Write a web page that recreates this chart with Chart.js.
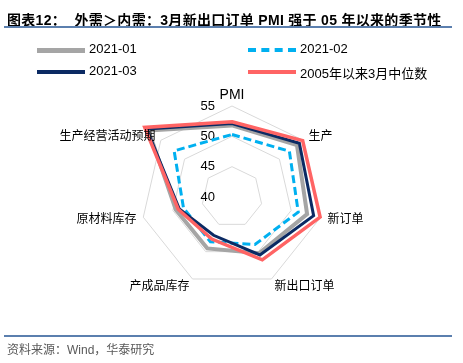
<!DOCTYPE html>
<html>
<head>
<meta charset="utf-8">
<script src="https://cdn.jsdelivr.net/npm/chart.js@4.4.1/dist/chart.umd.min.js"></script>
<style>
  body { margin: 0; width: 463px; height: 363px; background: #fff; position: relative; overflow: hidden; font-family: "Liberation Sans", "Noto Sans CJK SC", sans-serif; }
  #chart { position: absolute; left: 0; top: 0; }
  #title { position: absolute; left: 7px; top: 9px; font-size: 14px; font-weight: bold; color: #000; white-space: pre; letter-spacing: 0.3px; }
  .rule { position: absolute; left: 4px; width: 448px; height: 2px; background: #5b7fae; }
  #legend { position: absolute; left: 0; top: 0; }
  .item { position: absolute; height: 16px; font-size: 13px; color: #000; white-space: nowrap; }
  .item .swatch { position: absolute; left: 0; top: 6px; width: 48px; height: 0; }
  .item span { position: absolute; left: 52px; top: -1px; }
  #source { position: absolute; left: 7px; top: 340px; font-size: 12px; color: #595959; white-space: pre; }
</style>
</head>
<body>
<canvas id="chart" width="463" height="363"></canvas>
<div id="title">图表12：  外需＞内需：3月新出口订单 PMI 强于 05 年以来的季节性</div>
<div class="rule" style="top:26px"></div>
<div id="legend"></div>
<div class="rule" style="top:335px"></div>
<div id="source">资料来源：Wind，华泰研究</div>
<script>
// Data
const categories = ["PMI", "生产", "新订单", "新出口订单", "产成品库存", "原材料库存", "生产经营活动预期"];
const seriesNames = ["2021-01", "2021-02", "2021-03", "2005年以来3月中位数"];
const jan2021 = [51.8, 53.7, 52.7, 50.3, 49.4, 49.5, 57.6];
const feb2021 = [50.3, 52.1, 51.2, 48.7, 48.2, 48.2, 52.2];
const mar2021 = [52.1, 54.2, 53.8, 50.6, 47.0, 48.9, 58.0];
const marMedian = [52.4, 54.9, 54.9, 51.5, 47.7, 49.1, 58.4];
const tickValues = [40, 45, 50, 55];

const seriesColors = ["#a5a5a5", "#00b0f0", "#0b2a63", "#ff6464"];
const seriesWidths = [4, 3, 3, 3.5];

// Legend (HTML, two columns)
const legendPos = [[37, 42], [248, 42], [37, 64], [248, 64]];
const legendBox = document.getElementById("legend");
seriesNames.forEach((name, i) => {
    const item = document.createElement("div");
    item.className = "item";
    item.style.left = legendPos[i][0] + "px";
    item.style.top = legendPos[i][1] + "px";
    const sw = document.createElement("div");
    sw.className = "swatch";
    sw.style.borderTop = seriesWidths[i] + 1 + "px " + (i === 1 ? "dashed " : "solid ") + seriesColors[i];
    const label = document.createElement("span");
    label.innerText = name;
    item.appendChild(sw);
    item.appendChild(label);
    legendBox.appendChild(item);
});

// Ticks and point labels drawn off the radial scale
const radarText = {
    id: "radarText",
    beforeDatasetsDraw(chart) {
        const r = chart.scales.r;
        const ctx = chart.ctx;
        ctx.save();
        ctx.fillStyle = "#000";
        ctx.font = "13px 'Liberation Sans', sans-serif";
        ctx.textAlign = "right";
        ctx.textBaseline = "middle";
        tickValues.forEach(v => {
            ctx.fillText(String(v), r.xCenter - 17, r.yCenter - r.getDistanceFromCenterForValue(v));
        });
        ctx.restore();
    },
    afterDatasetsDraw(chart) {
        const r = chart.scales.r;
        const ctx = chart.ctx;
        const n = categories.length;
        ctx.save();
        ctx.fillStyle = "#000";
        categories.forEach((cat, i) => {
            const p = r.getPointPosition(i, r.drawingArea + 7);
            if (i === 0) {
                ctx.font = "14px 'Liberation Sans', sans-serif";
                ctx.textAlign = "center";
                ctx.textBaseline = "alphabetic";
                ctx.fillText(cat, p.x, p.y);
            } else {
                ctx.font = "12px 'Noto Sans CJK SC', sans-serif";
                ctx.textAlign = i < n / 2 ? "left" : "right";
                ctx.textBaseline = "middle";
                ctx.fillText(cat, p.x, p.y);
            }
        });
        ctx.restore();
    }
};

const allSeries = [jan2021, feb2021, mar2021, marMedian];
const drawOrder = [4, 3, 2, 1];

new Chart(document.getElementById("chart").getContext("2d"), {
    type: "radar",
    data: {
        labels: categories,
        datasets: allSeries.map((values, i) => ({
            label: seriesNames[i],
            data: values,
            borderColor: seriesColors[i],
            borderWidth: seriesWidths[i],
            borderDash: i === 1 ? [8, 4] : [],
            borderJoinStyle: "miter",
            fill: false,
            pointRadius: 0,
            tension: 0,
            order: drawOrder[i]
        }))
    },
    options: {
        responsive: false,
        animation: false,
        layout: { padding: { left: 141, right: 139, top: 106, bottom: 74 } },
        plugins: { legend: { display: false }, tooltip: { enabled: false } },
        scales: {
            r: {
                min: 40,
                max: 55,
                ticks: { display: false, stepSize: 5 },
                grid: { color: "#d9d9d9", lineWidth: 1 },
                angleLines: { display: false },
                pointLabels: { display: false }
            }
        }
    },
    plugins: [radarText]
});
</script>
</body>
</html>
